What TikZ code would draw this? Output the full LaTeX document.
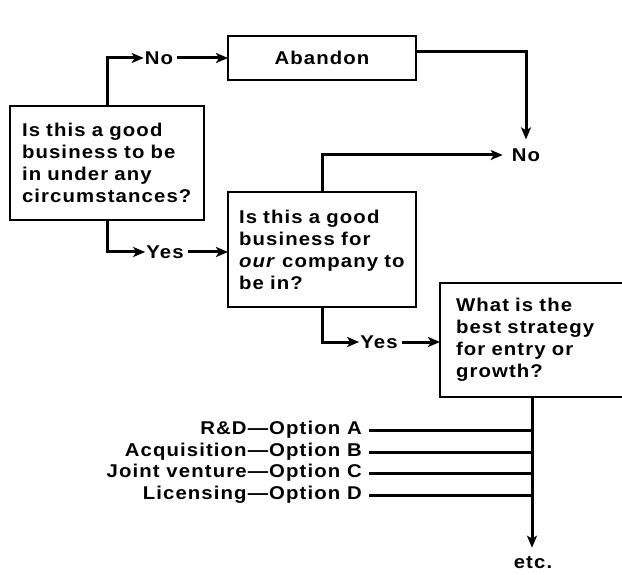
\documentclass[tikz,border=0pt]{standalone}
\usepackage{fontspec}
\setmainfont[LetterSpace=6,FakeStretch=1.1]{Liberation Sans}
\usetikzlibrary{arrows.meta}
\tikzset{
  qbox/.style={draw, line width=2.5pt, outer sep=0pt, anchor=north west,
    align=left, inner xsep=14pt, inner ysep=4pt},
  abox/.style={draw, line width=2.5pt, outer sep=0pt, anchor=north west,
    align=center, minimum width=188pt, minimum height=44pt},
  lbl/.style={inner sep=1pt},
  conn/.style={line width=3pt, line cap=butt,
    -{Stealth[length=12pt,width=10pt,inset=3pt]}},
  plain/.style={line width=3pt},
}
\begin{document}
\begin{tikzpicture}[x=1pt,y=-1pt,
  every node/.style={font=\fontsize{18.5}{22}\selectfont\bfseries}]
\useasboundingbox (0,0) rectangle (622,575);

\node[qbox, text width=170pt, minimum height=114pt, inner xsep=12pt] (box1) at (10,106)
  {Is this a good\\business to be\\in under any\\circumstances?};
\node[abox] (abandon) at (228,36) {Abandon};
\node[qbox, text width=166pt, minimum height=115pt, inner xsep=11pt] (box2) at (228,192)
  {Is this a good\\business for\\\textit{our} company to\\be in?};
\node[qbox, text width=152pt, minimum height=114pt, inner xsep=16pt] (box3) at (440,283)
  {What is the\\best strategy\\for entry or\\growth?};

\node[lbl] (no1) at (159,58) {No};
\node[lbl] (no2) at (526,155) {No};
\node[lbl] (yes1) at (165,252) {Yes};
\node[lbl] (yes2) at (379,342) {Yes};
\node[lbl] (etc) at (533,563) {etc.};

\node[lbl, anchor=east] (optA) at (363,430) {R\&D—Option A};
\node[lbl, anchor=east] (optB) at (363,452) {Acquisition—Option B};
\node[lbl, anchor=east] (optC) at (363,473) {Joint venture—Option C};
\node[lbl, anchor=east] (optD) at (363,495) {Licensing—Option D};

\draw[conn] (box1.north) |- (no1.west);
\draw[conn, shorten <=3pt] (no1.east) -- (no1.east -| abandon.west);
\draw[conn, shorten >=8pt] ([yshift=6pt]abandon.east) -| (no2.north);
\draw[conn, shorten >=8pt] (box2.north) |- (no2.west);
\draw[conn] (box1.south) |- (yes1.west);
\draw[conn, shorten <=3pt] (yes1.east) -- (yes1.east -| box2.west);
\draw[conn] (box2.south) |- (yes2.west);
\draw[conn, shorten <=3pt] (yes2.east) -- (yes2.east -| box3.west);
\draw[conn, shorten >=8pt] (box3.south) -- (box3.south |- etc.north);

\foreach \o in {optA,optB,optC,optD}
  \draw[plain] ([xshift=6pt]\o.east) -- (\o.east -| box3.south);
\end{tikzpicture}
\end{document}
